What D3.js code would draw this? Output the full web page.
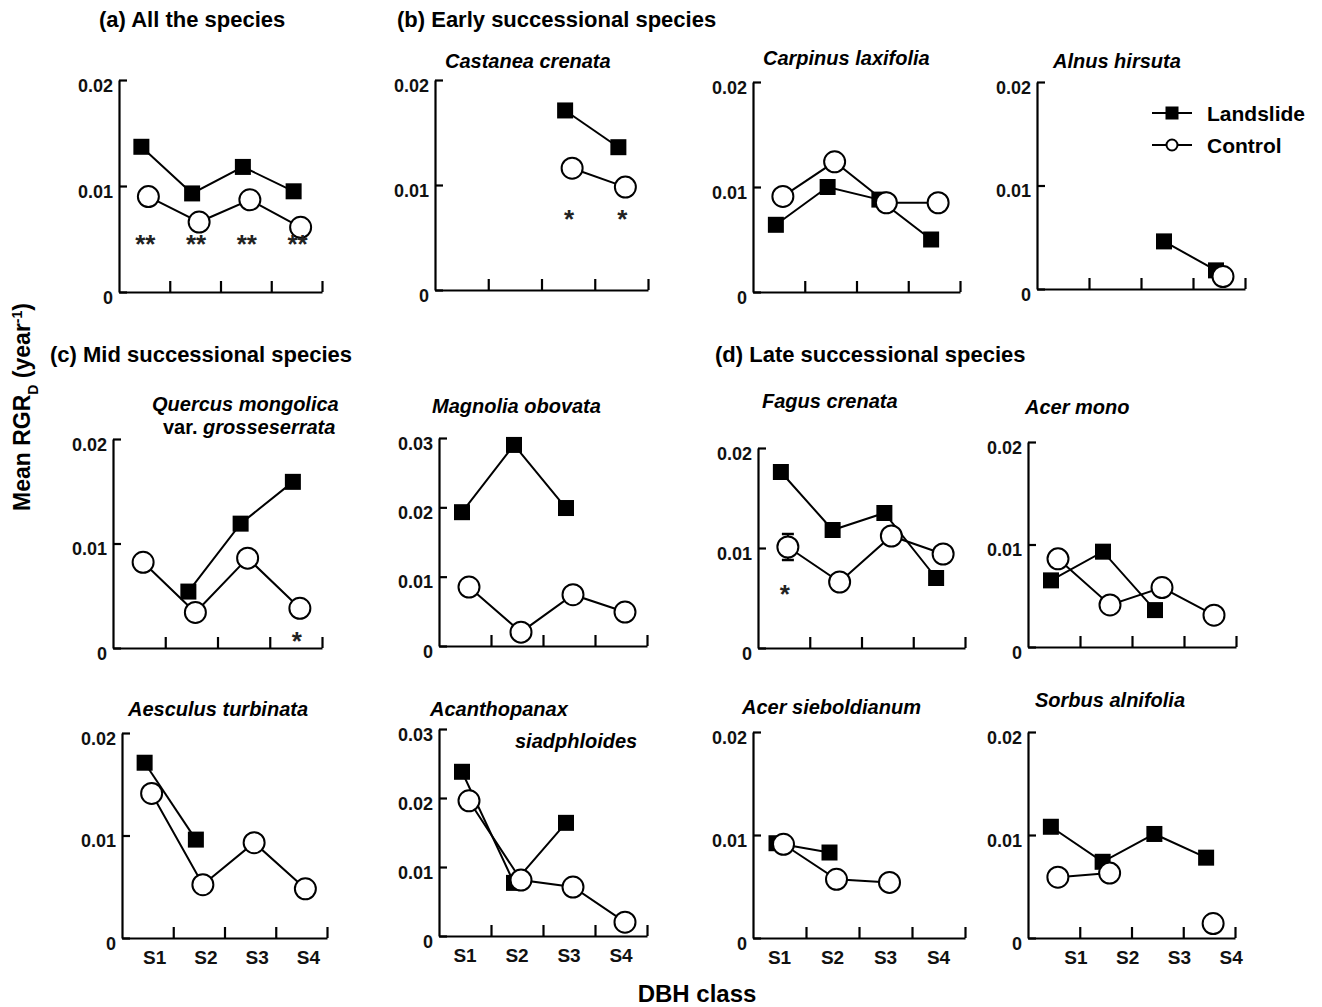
<!DOCTYPE html>
<html>
<head>
<meta charset="utf-8">
<script src="https://cdn.jsdelivr.net/npm/d3@7"></script>
<style>
  body { margin: 0; background: #fff; }
  svg { font-family: "Liberation Sans", Arial, sans-serif; font-weight: bold; }
  .axis path, .axis line { stroke: #000; stroke-width: 2.2px; }
  .axis text { font-size: 18px; font-weight: bold; fill: #111; font-family: "Liberation Sans", Arial, sans-serif; }
</style>
</head>
<body>
<div id="chart"></div>
<script>
// DBH classes
const dbhClasses = ["S1", "S2", "S3", "S4"];

// Mean RGR_D values (null = no data)
const allLandslide = [0.0137, 0.0093, 0.0118, 0.0095];
const allControl = [0.0090, 0.0066, 0.0087, 0.0061];
const castaneaLandslide = [null, null, 0.0171, 0.0136];
const castaneaControl = [null, null, 0.0116, 0.0098];
const carpinusLandslide = [0.0064, 0.0100, 0.0088, 0.0050];
const carpinusControl = [0.0091, 0.0124, 0.0085, 0.0085];
const alnusLandslide = [null, null, 0.0046, 0.0018];
const alnusControl = [null, null, null, 0.0012];
const quercusLandslide = [null, 0.0054, 0.0119, 0.0159];
const quercusControl = [0.0082, 0.0034, 0.0086, 0.0038];
const magnoliaLandslide = [0.0193, 0.0290, 0.0199, null];
const magnoliaControl = [0.0085, 0.0020, 0.0074, 0.0049];
const fagusLandslide = [0.0176, 0.0118, 0.0135, 0.0070];
const fagusControl = [0.0101, 0.0066, 0.0112, 0.0094];
const fagusControlErr = [0.0013, null, null, null];
const acerMonoLandslide = [0.0065, 0.0093, 0.0036, null];
const acerMonoControl = [0.0086, 0.0041, 0.0058, 0.0031];
const aesculusLandslide = [0.0171, 0.0096, null, null];
const aesculusControl = [0.0141, 0.0052, 0.0093, 0.0048];
const acanthoLandslide = [0.0238, 0.0077, 0.0164, null];
const acanthoControl = [0.0196, 0.0081, 0.0071, 0.0020];
const acerSiebLandslide = [0.0092, 0.0083, null, null];
const acerSiebControl = [0.0091, 0.0057, 0.0054, null];
const sorbusLandslide = [0.0108, 0.0074, 0.0101, 0.0078];
const sorbusControl = [0.0059, 0.0063, null, 0.0014];

// significance marks under the classes
const allSig = ["**", "**", "**", "**"];
const castaneaSig = [null, null, "*", "*"];
const quercusSig = [null, null, null, "*"];
const fagusSig = ["*", null, null, null];

const sections = [
    { text: "(a) All the species", x: 99, y: 27 },
    { text: "(b) Early successional species", x: 397, y: 27 },
    { text: "(c) Mid successional species", x: 50, y: 362 },
    { text: "(d) Late successional species", x: 715, y: 362 }
];

// box = [left, right, top, bottom]; sigAt = level (data units) of the asterisks
const panels = [
    { land: allLandslide, ctrl: allControl, ymax: 0.02, box: [119, 322, 80, 292], sig: allSig, sigAt: 0.0051, titles: [] },
    { land: castaneaLandslide, ctrl: castaneaControl, ymax: 0.02, box: [435, 648, 80, 290], sig: castaneaSig, sigAt: 0.0073,
      titles: [{ x: 445, y: 68, parts: [["Castanea crenata", true]] }] },
    { land: carpinusLandslide, ctrl: carpinusControl, ymax: 0.02, box: [753, 960, 82, 292],
      titles: [{ x: 763, y: 65, parts: [["Carpinus laxifolia", true]] }] },
    { land: alnusLandslide, ctrl: alnusControl, ymax: 0.02, box: [1037, 1245, 82, 289], legend: true,
      titles: [{ x: 1053, y: 68, parts: [["Alnus hirsuta", true]] }] },
    { land: quercusLandslide, ctrl: quercusControl, ymax: 0.02, box: [113, 322, 439, 648], sig: quercusSig, sigAt: 0.0012,
      titles: [{ x: 152, y: 411, parts: [["Quercus mongolica", true]] },
               { x: 163, y: 434, parts: [["var. ", false], ["grosseserrata", true]] }] },
    { land: magnoliaLandslide, ctrl: magnoliaControl, ymax: 0.03, box: [439, 647, 438, 646],
      titles: [{ x: 432, y: 413, parts: [["Magnolia obovata", true]] }] },
    { land: fagusLandslide, ctrl: fagusControl, ctrlErr: fagusControlErr, ymax: 0.02, box: [758, 965, 448, 648], sig: fagusSig, sigAt: 0.0060,
      titles: [{ x: 762, y: 408, parts: [["Fagus crenata", true]] }] },
    { land: acerMonoLandslide, ctrl: acerMonoControl, ymax: 0.02, box: [1028, 1236, 442, 647],
      titles: [{ x: 1025, y: 414, parts: [["Acer mono", true]] }] },
    { land: aesculusLandslide, ctrl: aesculusControl, ymax: 0.02, box: [122, 327, 733, 938], xLabels: true, labelShift: 7,
      titles: [{ x: 128, y: 716, parts: [["Aesculus turbinata", true]] }] },
    { land: acanthoLandslide, ctrl: acanthoControl, ymax: 0.03, box: [439, 647, 729, 936], xLabels: true,
      titles: [{ x: 430, y: 716, parts: [["Acanthopanax", true]] },
               { x: 515, y: 748, parts: [["siadphloides", true]] }] },
    { land: acerSiebLandslide, ctrl: acerSiebControl, ymax: 0.02, box: [753, 965, 732, 938], xLabels: true,
      titles: [{ x: 742, y: 714, parts: [["Acer sieboldianum", true]] }] },
    { land: sorbusLandslide, ctrl: sorbusControl, ymax: 0.02, box: [1028, 1235, 732, 938], xLabels: true, labelShift: 22,
      titles: [{ x: 1035, y: 707, parts: [["Sorbus alnifolia", true]] }] }
];

const svg = d3.select("#chart").append("svg")
    .attr("width", 1322)
    .attr("height", 1007);

svg.append("rect").attr("width", 1322).attr("height", 1007).attr("fill", "#fff");

// section headings
svg.selectAll(".section")
    .data(sections)
    .enter()
    .append("text")
    .attr("class", "section")
    .attr("x", d => d.x)
    .attr("y", d => d.y)
    .style("font-size", "22px")
    .text(d => d.text);

// shared axis titles
const yTitle = svg.append("text")
    .attr("transform", "translate(30,407) rotate(-90)")
    .attr("text-anchor", "middle")
    .style("font-size", "23px");
yTitle.append("tspan").text("Mean RGR");
yTitle.append("tspan").text("D").style("font-size", "14px").attr("baseline-shift", "sub");
yTitle.append("tspan").text(" (year");
yTitle.append("tspan").text("-1").style("font-size", "14px").attr("baseline-shift", "super");
yTitle.append("tspan").text(")");

svg.append("text")
    .attr("x", 697)
    .attr("y", 1002)
    .attr("text-anchor", "middle")
    .style("font-size", "24px")
    .text("DBH class");

const yFmt = d => d === 0 ? "0" : d3.format(".2f")(d);

panels.forEach(p => {
    const [left, right, top, bottom] = p.box;
    const g = svg.append("g");

    const y = d3.scaleLinear().domain([0, p.ymax]).range([bottom, top]);
    const xb = d3.scaleBand().domain(dbhClasses).range([left, right]);
    const xl = d3.scaleLinear().domain([0, 4]).range([left, right]);
    const cx = (i, off) => xb(dbhClasses[i]) + xb.bandwidth() / 2 + off;

    // y axis, ticks pointing inward
    const yAxis = g.append("g")
        .attr("class", "axis")
        .attr("transform", `translate(${left},0)`)
        .call(d3.axisLeft(y)
            .tickValues(d3.range(0, p.ymax + 1e-9, 0.01))
            .tickSizeInner(-8)
            .tickSizeOuter(0)
            .tickPadding(6)
            .tickFormat(yFmt));
    yAxis.selectAll("text").attr("dy", "0.62em");

    // x axis, class boundaries
    g.append("g")
        .attr("class", "axis")
        .attr("transform", `translate(0,${bottom})`)
        .call(d3.axisBottom(xl)
            .tickValues([1, 2, 3, 4])
            .tickSizeInner(-11)
            .tickSizeOuter(0)
            .tickFormat(""));

    if (p.xLabels) {
        g.append("g")
            .attr("class", "axis")
            .attr("transform", `translate(${p.labelShift || 0},${bottom})`)
            .call(d3.axisBottom(xb).tickSize(0).tickPadding(13))
            .call(a => a.select(".domain").remove())
            .selectAll("text").style("font-size", "19px");
    }

    // species title
    p.titles.forEach(t => {
        const txt = g.append("text")
            .attr("x", t.x)
            .attr("y", t.y)
            .style("font-size", "20px");
        t.parts.forEach(([s, it]) => {
            txt.append("tspan").text(s).style("font-style", it ? "italic" : "normal");
        });
    });

    const series = [
        { vals: p.land, off: -3, kind: "square" },
        { vals: p.ctrl, off: 4, kind: "circle" }
    ];

    series.forEach(s => {
        const pts = s.vals.map((v, i) => ({ i, v }));
        const line = d3.line()
            .defined(d => d.v != null)
            .x(d => cx(d.i, s.off))
            .y(d => y(d.v));
        g.append("path")
            .attr("d", line(pts))
            .attr("fill", "none")
            .attr("stroke", "#000")
            .attr("stroke-width", 2);

        const valid = pts.filter(d => d.v != null);
        if (s.kind === "square") {
            g.selectAll(null)
                .data(valid)
                .enter()
                .append("rect")
                .attr("x", d => cx(d.i, s.off) - 8)
                .attr("y", d => y(d.v) - 8)
                .attr("width", 16)
                .attr("height", 16)
                .attr("fill", "#000");
        } else {
            if (p.ctrlErr) {
                const err = pts.filter(d => d.v != null && p.ctrlErr[d.i] != null);
                err.forEach(d => {
                    const e = p.ctrlErr[d.i];
                    const x0 = cx(d.i, s.off);
                    g.append("line").attr("x1", x0).attr("x2", x0)
                        .attr("y1", y(d.v + e)).attr("y2", y(d.v - e))
                        .attr("stroke", "#000").attr("stroke-width", 2);
                    [d.v + e, d.v - e].forEach(ev => {
                        g.append("line").attr("x1", x0 - 6).attr("x2", x0 + 6)
                            .attr("y1", y(ev)).attr("y2", y(ev))
                            .attr("stroke", "#000").attr("stroke-width", 2.5);
                    });
                });
            }
            g.selectAll(null)
                .data(valid)
                .enter()
                .append("circle")
                .attr("cx", d => cx(d.i, s.off))
                .attr("cy", d => y(d.v))
                .attr("r", 10.5)
                .attr("fill", "#fff")
                .attr("stroke", "#000")
                .attr("stroke-width", 2);
        }
    });

    // significance asterisks at a common level in each panel
    if (p.sig) {
        g.selectAll(null)
            .data(p.sig.map((m, i) => ({ m, i })).filter(d => d.m))
            .enter()
            .append("text")
            .attr("x", d => cx(d.i, 1))
            .attr("y", y(p.sigAt) + 15)
            .attr("text-anchor", "middle")
            .style("font-size", "26px")
            .style("fill", "#222")
            .text(d => d.m);
    }

    // legend
    if (p.legend) {
        const items = [{ name: "Landslide", kind: "square", y: 113 }, { name: "Control", kind: "circle", y: 145 }];
        const lg = g.selectAll(".legend")
            .data(items)
            .enter()
            .append("g")
            .attr("class", "legend")
            .attr("transform", d => `translate(1172,${d.y})`);
        lg.append("line").attr("x1", -20).attr("x2", 20)
            .attr("stroke", "#000").attr("stroke-width", 2);
        lg.filter(d => d.kind === "square").append("rect")
            .attr("x", -6.5).attr("y", -6.5).attr("width", 13).attr("height", 13).attr("fill", "#000");
        lg.filter(d => d.kind === "circle").append("circle")
            .attr("r", 5.5).attr("fill", "#fff").attr("stroke", "#000").attr("stroke-width", 2);
        lg.append("text")
            .attr("x", 35)
            .attr("dy", "0.36em")
            .style("font-size", "21px")
            .text(d => d.name);
    }
});
</script>
</body>
</html>
